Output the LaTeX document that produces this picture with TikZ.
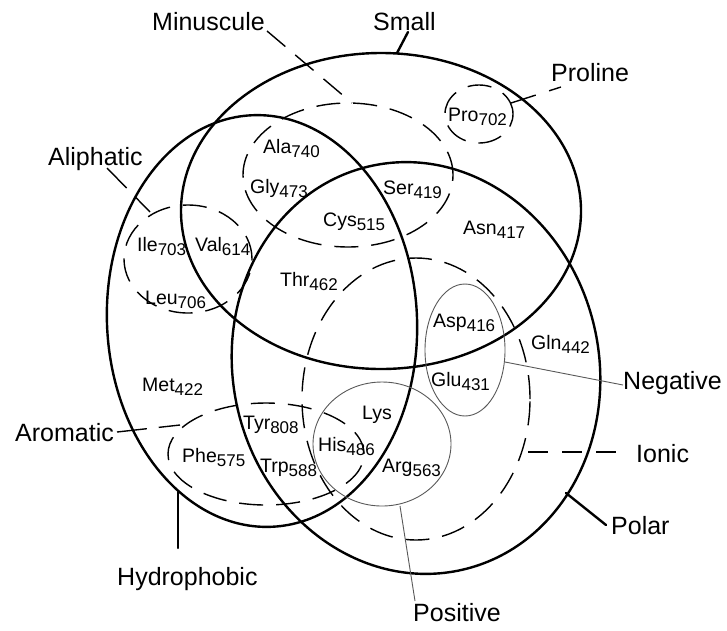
\documentclass[tikz,border=0pt]{standalone}
\usepackage{fontspec}
\setmainfont{Liberation Sans}
\tikzset{
  thickline/.style={line width=2.4pt, line cap=round},
  dsh/.style={line width=1.4pt, dash pattern=on 24pt off 13pt},
  thinline/.style={line width=0.9pt, draw=black!65},
  lbl/.style={anchor=base west, inner sep=0pt, font=\fontsize{25}{30}\selectfont},
  res/.style={anchor=base west, inner sep=0pt, font=\fontsize{19.5}{23}\selectfont},
}
\newcommand\rsub[1]{\raisebox{-4.5pt}{\fontsize{17}{17}\selectfont #1}}
\begin{document}
\begin{tikzpicture}[x=1pt,y=-1pt]
\useasboundingbox (0,0) rectangle (727,630);
% thick sets
\draw[thickline] (381,211) ellipse [x radius=200pt, y radius=158pt];
\draw[thickline, rotate around={3:(262,321)}] (262,321) ellipse [x radius=155pt, y radius=206pt];
\draw[thickline, rotate around={13:(416,368)}] (416,368) ellipse [x radius=183pt, y radius=207pt];
% dashed subsets
\draw[dsh] (348,175) ellipse [x radius=105pt, y radius=72pt];
\draw[dsh] (188,259) ellipse [x radius=64pt, y radius=54pt];
\draw[dsh] (266,454) ellipse [x radius=98pt, y radius=51pt];
\draw[dsh] (479,114) ellipse [x radius=34pt, y radius=29pt];
\draw[dsh] (416,399) ellipse [x radius=114pt, y radius=141pt];
% thin subsets
\draw[thinline] (465,350) ellipse [x radius=40pt, y radius=66pt];
\draw[thinline] (382,444) ellipse [x radius=69pt, y radius=62pt];
% labels
\node[lbl] (lmin) at (152,30) {Minuscule};
\node[lbl] (lsmall) at (373,30) {Small};
\node[lbl] (lpro) at (551,81) {Proline};
\node[lbl] (lali) at (48,165) {Aliphatic};
\node[lbl] (laro) at (15,441) {Aromatic};
\node[lbl] (lhyd) at (117,585) {Hydrophobic};
\node[lbl] (lneg) at (623,389) {Negative};
\node[lbl] (lion) at (636,462) {Ionic};
\node[lbl] (lpol) at (611,534) {Polar};
\node[lbl] (lpos) at (413,621) {Positive};
% residues
\node[res] (ala) at (263,153) {Ala\rsub{740}};
\node[res] (gly) at (250,193) {Gly\rsub{473}};
\node[res] (ile) at (137,251) {Ile\rsub{703}};
\node[res] (val) at (195,251) {Val\rsub{614}};
\node[res] (leu) at (145,304) {Leu\rsub{706}};
\node[res] (cys) at (323,226) {Cys\rsub{515}};
\node[res] (ser) at (383,194) {Ser\rsub{419}};
\node[res] (asn) at (463,234) {Asn\rsub{417}};
\node[res] (pro) at (448,121) {Pro\rsub{702}};
\node[res] (thr) at (280,286) {Thr\rsub{462}};
\node[res] (asp) at (433,327) {Asp\rsub{416}};
\node[res] (gln) at (531,349) {Gln\rsub{442}};
\node[res] (glu) at (431,386) {Glu\rsub{431}};
\node[res] (met) at (142,391) {Met\rsub{422}};
\node[res] (tyr) at (243,429) {Tyr\rsub{808}};
\node[res] (phe) at (182,462) {Phe\rsub{575}};
\node[res] (trp) at (260,472) {Trp\rsub{588}};
\node[res] (his) at (318,451) {His\rsub{486}};
\node[res] (lys) at (362,419) {Lys};
\node[res] (arg) at (382,472) {Arg\rsub{563}};
% leader ends
\coordinate (minA) at (267,31);  \coordinate (minB) at (352,103);
\coordinate (smaA) at (408,32);  \coordinate (smaB) at (397,53);
\coordinate (proA) at (561,87);  \coordinate (proB) at (511,103);
\coordinate (aliA) at (107,168); \coordinate (aliB) at (150,212);
\coordinate (aroA) at (117,432); \coordinate (aroB) at (180,425);
\coordinate (hydA) at (178,548); \coordinate (hydB) at (178,492);
\coordinate (negA) at (623,385); \coordinate (negB) at (505,362);
\coordinate (ionA) at (623,452); \coordinate (ionB) at (528,452);
\coordinate (polA) at (606,525); \coordinate (polB) at (566,493);
\coordinate (posA) at (415,601); \coordinate (posB) at (400,506);
\draw[dsh] (minA) -- (minB);
\draw[thickline] (smaA) -- (smaB);
\draw[dsh, dash pattern=on 26pt off 14pt] (proB) -- (proA);
\draw[dsh, dash pattern=on 28pt off 12pt] (aliA) -- (aliB);
\draw[dsh, dash pattern=on 30pt off 12pt] (aroA) -- (aroB);
\draw[thickline] (hydA) -- (hydB);
\draw[thinline] (negA) -- (negB);
\draw[dsh, dash pattern=on 20pt off 14pt] (ionB) -- (ionA);
\draw[thickline] (polA) -- (polB);
\draw[thinline] (posA) -- (posB);
\end{tikzpicture}
\end{document}
